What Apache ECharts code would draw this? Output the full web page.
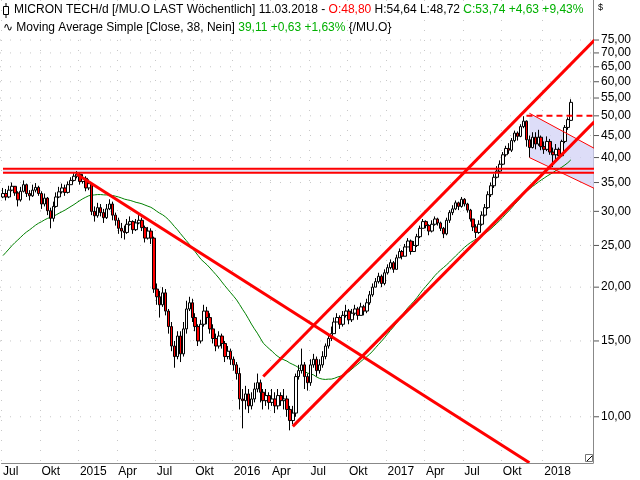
<!DOCTYPE html>
<html><head><meta charset="utf-8">
<script src="https://cdn.jsdelivr.net/npm/echarts@6/dist/echarts.min.js"></script>
<style>html,body{margin:0;padding:0;background:#fff}#c{width:640px;height:480px}</style>
</head><body><div id="c"></div>
<script>
// weekly closes from 06.07.2014 to 11.03.2018
const closes = [
33.0,32.4,33.6,34.3,33.1,31.9,33.4,34.6,33.0,32.6,
33.6,34.1,33.0,31.2,32.2,30.1,28.9,30.8,32.4,33.3,
34.0,33.2,34.6,35.4,36.2,36.6,35.2,35.8,34.0,34.8,
30.0,29.3,30.6,29.8,29.0,30.4,31.2,29.4,28.6,27.4,
27.0,26.8,28.0,28.4,27.2,28.2,28.6,27.5,26.0,27.0,
26.0,19.8,19.0,18.2,19.4,17.6,16.2,14.6,13.8,15.4,
14.0,16.0,17.8,18.4,17.0,16.2,15.0,16.4,17.6,17.0,
16.0,15.2,14.6,15.4,14.8,13.8,14.2,13.6,13.2,12.6,
11.0,10.9,11.3,10.6,11.0,11.6,12.0,11.4,10.9,11.2,
10.8,11.0,10.6,11.2,10.9,11.0,10.4,9.8,10.2,12.4,
12.8,13.2,12.4,12.0,13.2,13.6,12.8,13.2,13.8,14.6,
15.2,15.6,16.6,17.0,16.4,17.2,17.6,16.8,17.4,17.8,
17.2,18.0,17.6,18.4,19.2,20.0,20.6,21.2,20.4,21.6,
22.2,22.8,22.0,23.4,24.2,23.6,24.8,25.6,24.2,25.0,
26.2,27.4,28.4,27.8,27.0,28.0,28.8,28.2,27.4,26.6,
28.6,29.8,30.4,31.4,30.8,32.0,31.2,30.2,28.8,27.6,
26.8,28.0,29.4,30.6,32.8,34.4,36.0,37.2,38.6,40.6,
42.0,41.6,43.8,45.6,44.8,47.2,48.6,44.0,42.2,44.6,
43.0,44.6,42.4,41.8,43.6,41.2,40.6,41.8,40.4,43.6,
47.0,49.0,53.74];
// weekly highs and lows
const highs = [
34.0,33.8,34.4,35.0,34.2,33.4,34.2,35.4,34.8,33.6,
34.6,34.9,34.4,33.4,33.0,32.4,30.6,31.6,33.2,34.2,
34.8,34.6,35.2,36.0,36.8,37.2,36.8,36.6,36.2,35.6,
35.0,30.8,31.4,31.2,30.4,31.2,32.0,31.6,29.8,29.0,
28.2,27.8,28.8,29.2,28.6,28.8,29.4,29.0,27.8,27.6,
27.4,26.2,20.4,19.6,20.0,19.8,17.8,16.6,15.0,15.8,
15.8,16.6,18.6,19.0,18.8,17.4,16.4,16.8,18.2,18.0,
17.4,16.4,15.6,15.8,15.6,15.0,14.6,14.4,13.8,13.4,
13.0,11.6,11.8,11.6,11.4,12.0,12.6,12.2,11.6,11.6,
11.4,11.6,11.4,11.6,11.4,11.6,11.2,10.6,10.6,12.6,
13.2,14.4,13.4,12.6,13.6,14.0,13.8,13.6,14.2,14.8,
15.6,16.2,17.0,17.4,17.2,17.6,18.2,17.8,17.8,18.2,
18.0,18.4,18.2,18.8,19.6,20.4,21.0,21.6,21.4,22.0,
22.6,23.2,23.0,23.8,24.6,24.4,25.2,26.0,25.8,25.6,
26.6,27.8,28.8,28.6,28.0,28.6,29.2,29.0,28.4,27.6,
29.0,30.2,31.0,31.8,31.6,32.4,32.2,31.4,30.4,28.8,
28.0,28.6,30.0,31.2,33.4,35.0,36.6,38.2,39.4,41.2,
42.6,43.2,44.4,46.2,46.0,47.8,49.9,48.8,45.0,45.8,
45.8,46.4,45.0,43.6,44.8,44.2,42.2,43.0,42.2,44.0,
47.6,49.6,54.64];
const lows = [
32.2,31.8,32.2,33.4,32.6,30.8,31.6,33.2,32.4,31.8,
32.4,33.2,32.6,30.4,30.8,29.4,27.4,28.4,30.6,32.2,
33.0,32.6,33.0,34.6,35.2,35.8,34.6,34.8,33.4,33.6,
29.4,28.4,29.0,29.2,28.2,28.8,30.2,28.6,27.8,26.6,
26.0,25.8,26.6,27.8,26.6,27.0,28.0,27.0,25.4,25.8,
25.2,19.4,18.2,17.0,18.0,17.2,15.6,14.2,13.0,13.6,
13.4,13.8,15.6,17.6,16.6,15.8,14.6,14.8,16.2,16.4,
15.6,14.8,14.2,14.4,14.4,13.4,13.6,13.2,12.8,12.2,
10.4,9.4,10.4,10.2,10.4,10.8,11.4,10.8,10.4,10.6,
10.4,10.6,10.2,10.4,10.6,10.4,10.0,9.3,9.6,10.0,
12.2,12.6,11.6,11.5,11.8,13.0,12.4,12.6,13.0,13.6,
14.4,15.0,15.6,16.6,16.0,16.2,17.0,16.4,16.6,17.2,
16.8,17.2,17.2,17.4,18.2,19.0,20.0,20.4,20.0,20.2,
21.4,22.0,21.6,22.0,23.4,23.2,23.6,24.8,23.8,24.2,
24.8,26.0,27.4,27.4,26.4,26.8,27.8,27.8,27.0,26.0,
26.4,28.2,29.4,30.2,30.2,30.6,30.8,29.8,28.4,27.0,
26.0,26.6,27.8,29.2,30.4,32.4,34.0,35.8,37.0,38.4,
40.2,40.8,41.2,43.4,43.8,44.6,46.8,42.4,40.0,42.0,
41.8,42.6,41.6,40.8,41.4,40.6,38.0,39.6,39.8,40.2,
43.2,46.4,48.72];
const firstOpen = 32.4;
const lastOpen = 48.80;
// 37 weekly closes before the first week (for the 38-week average)
const history = [16.8,17.2,17.6,17.4,18.0,18.6,19.2,20.0,21.0,20.6,21.4,21.8,22.4,22.0,21.6,22.8,23.4,24.0,23.6,24.4,
23.8,23.2,24.0,24.6,23.8,22.8,23.6,24.2,25.0,26.2,27.4,28.6,29.8,30.6,31.4,32.2,31.8];
const maPeriod = 38;
const startDate = '2014-07-06';
const totalSlots = 200;
const yTicks = [10,15,20,25,30,35,40,45,50,55,60,65,70,75];
const monthNames = {0:null,3:'Apr',6:'Jul',9:'Okt'};
// drawings: [x1, y1, x2, y2]  (week index, price)
const trendDown = [24.8,36.6,178.3,7.82];
const channelUpper = [87.9,12.4,199.5,75];
const channelLower = [98.3,9.5,199.5,48.5];
const hLines = [37.7,36.9];
const dashLevel = [177.3,50,199.5];
const flagUpper = [178.3,50.7,199.5,42.0];
const flagLower = [178.3,40.0,199.5,33.9];

const cats=[], labels={};
const d0=new Date(startDate+'T00:00:00Z');
let prevM=-1;
for(let i=0;i<totalSlots;i++){
  const d=new Date(d0.getTime()+i*7*86400000);
  const m=d.getUTCMonth();
  cats.push(d.toISOString().slice(0,10));
  if(i<closes.length && m!==prevM && m%3===0){ labels[i]= m===0? String(d.getUTCFullYear()) : monthNames[m]; }
  prevM=m;
}
const candles = closes.map((c,i)=>{
  const o = i===0?firstOpen:(i===closes.length-1?lastOpen:closes[i-1]);
  return [o,c,lows[i],highs[i]];
});
const all=history.concat(closes);
const ma=closes.map((c,i)=>{let s=0;for(let k=0;k<maPeriod;k++)s+=all[i+history.length-k];return +(s/maPeriod).toFixed(2);});

const segs=[
 {p:trendDown,w:3},{p:channelUpper,w:3},{p:channelLower,w:3},
 {p:[-0.5,hLines[0],199.5,hLines[0]],w:2},{p:[-0.5,hLines[1],199.5,hLines[1]],w:2},
 {p:[dashLevel[0],dashLevel[1],dashLevel[2],dashLevel[1]],w:2,dash:[6,4]},
 {p:flagUpper,w:1},{p:flagLower,w:1}
];
const chart=echarts.init(document.getElementById('c'));
const isTick=(i)=>labels[i]!==undefined;
chart.setOption({
  animation:false,
  grid:{left:0,right:47,top:0,bottom:17,containLabel:false},
  xAxis:{type:'category',data:cats,boundaryGap:true,
    axisLine:{lineStyle:{color:'#888'}},
    axisTick:{interval:isTick,length:4,lineStyle:{color:'#555'},alignWithLabel:true},
    axisLabel:{interval:isTick,formatter:(v,i)=>labels[i]||'',color:'#000',fontFamily:'Liberation Sans',fontSize:12,align:'left',margin:3},
    splitLine:{show:true,interval:isTick,lineStyle:{color:'#c8c8c8',type:[1,9]}}},
  yAxis:{type:'log',logBase:10,position:'right',min:7.81,max:92.9,
    axisLine:{show:true,lineStyle:{color:'#888'}},axisTick:{show:false},axisLabel:{show:false},splitLine:{show:false}},
  series:[
    {type:'custom',z:1,silent:true,clip:true,data:[0],renderItem:(p,api)=>{
      const a=api.coord([-0.5,hLines[0]]),b=api.coord([199.5,hLines[1]]);
      const f=[api.coord([flagUpper[0],flagUpper[1]]),api.coord([flagUpper[2],flagUpper[3]]),api.coord([flagLower[2],flagLower[3]]),api.coord([flagLower[0],flagLower[1]])];
      return {type:'group',children:[
        {type:'rect',shape:{x:a[0],y:a[1],width:b[0]-a[0],height:b[1]-a[1]},style:{fill:'#e4e4f8'}},
        {type:'polygon',shape:{points:f},style:{fill:'rgba(210,210,245,0.75)'}}]};
    }},
    {type:'line',data:ma,showSymbol:false,z:3,lineStyle:{color:'#008000',width:1},silent:true},
    {type:'candlestick',data:candles,z:4,barWidth:3,itemStyle:{color:'#ffffff',color0:'#ff0000',borderColor:'#000',borderColor0:'#000',borderWidth:1}},
    {type:'custom',z:5,silent:true,clip:true,data:segs.map((s,i)=>i),renderItem:(p,api)=>{
      const s=segs[p.dataIndex];const a=api.coord([s.p[0],s.p[1]]),b=api.coord([s.p[2],s.p[3]]);
      return {type:'line',shape:{x1:a[0],y1:a[1],x2:b[0],y2:b[1]},style:{stroke:'#ff0000',lineWidth:s.w,lineDash:s.dash||null}};
    }}
  ]
});
const g=[];
const F='Liberation Sans';
yTicks.forEach(v=>{
  const y=chart.convertToPixel({yAxisIndex:0},v);
  g.push({type:'line',z:0,shape:{x1:0,y1:y,x2:593,y2:y},style:{stroke:'#c8c8c8',lineDash:[1,9]}});
  g.push({type:'line',shape:{x1:594,y1:y,x2:599,y2:y},style:{stroke:'#555'}});
  g.push({type:'text',x:601,y:y,style:{text:v.toFixed(2).replace('.',','),fill:'#000',font:'12px '+F,textVerticalAlign:'middle'}});
});
g.push({type:'text',x:598,y:3,style:{text:'$',fill:'#000',font:'9px '+F}});
g.push({type:'rect',shape:{x:585.5,y:454.5,width:7,height:7},style:{fill:'#fff',stroke:'#777'}});
g.push({type:'line',shape:{x1:587,y1:461,x2:592,y2:456},style:{stroke:'#000'}});
g.push({type:'line',shape:{x1:6,y1:3,x2:6,y2:18},style:{stroke:'#000'}});
g.push({type:'rect',shape:{x:3.5,y:6.5,width:5,height:8},style:{fill:'#fff',stroke:'#000'}});
g.push({type:'text',x:14,y:4,style:{text:'{k|MICRON TECH/d [/MU.O LAST Wöchentlich] 11.03.2018 - }{r|O:48,80}{k| H:54,64 L:48,72 }{g|C:53,74 +4,63 +9,43%}',
  font:'12px '+F,rich:{k:{fill:'#000',font:'12px '+F},r:{fill:'#ff0000',font:'12px '+F},g:{fill:'#00b000',font:'12px '+F}}}});
g.push({type:'text',x:3,y:22,style:{text:'{k|∿ Moving Average Simple [Close, 38, Nein] }{g|39,11 +0,63 +1,63%}{k| {/MU.O}}',
  font:'12px '+F,rich:{k:{fill:'#000',font:'12px '+F},g:{fill:'#00b000',font:'12px '+F}}}});
chart.setOption({graphic:g});
</script></body></html>
